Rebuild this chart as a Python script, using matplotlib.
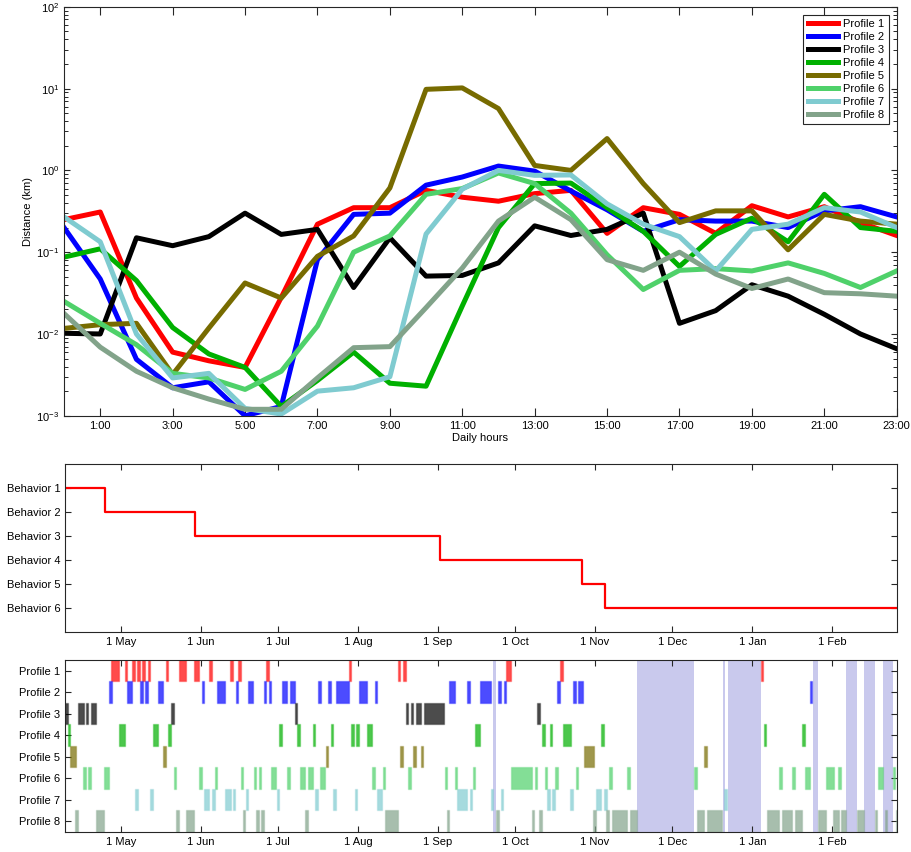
import numpy as np
import matplotlib
matplotlib.use('Agg')
import matplotlib.pyplot as plt
import matplotlib.dates as mdates
from matplotlib.colors import to_rgba
from matplotlib.ticker import LogLocator, NullFormatter
from datetime import datetime

plt.rcParams['font.family'] = ['Liberation Sans', 'DejaVu Sans']
plt.rcParams['font.size'] = 8
plt.rcParams['mathtext.default'] = 'regular'
plt.rcParams['axes.edgecolor'] = '#262626'
plt.rcParams['axes.linewidth'] = 0.8

# ---- daily distance profiles (km), one value per hour 0..23
hours = np.arange(24)
profile_1 = [0.25, 0.31, 0.0275, 0.006, 0.0047, 0.0039, 0.028, 0.22, 0.35, 0.35, 0.57, 0.47,
             0.42, 0.52, 0.57, 0.17, 0.35, 0.29, 0.17, 0.37, 0.27, 0.36, 0.23, 0.16]
profile_2 = [0.2, 0.047, 0.0049, 0.0022, 0.0026, 0.001, 0.0013, 0.081, 0.29, 0.3, 0.66, 0.83,
             1.13, 0.98, 0.56, 0.33, 0.18, 0.25, 0.24, 0.24, 0.2, 0.32, 0.36, 0.27]
profile_3 = [0.0102, 0.01, 0.15, 0.12, 0.155, 0.3, 0.165, 0.19, 0.037, 0.15, 0.051, 0.052,
             0.074, 0.21, 0.16, 0.19, 0.3, 0.0135, 0.0193, 0.04, 0.029, 0.0174, 0.01, 0.0066]
profile_4 = [0.087, 0.11, 0.045, 0.012, 0.0057, 0.0039, 0.0013, 0.0027, 0.006, 0.0025, 0.0023, 0.022,
             0.2, 0.69, 0.7, 0.35, 0.18, 0.067, 0.165, 0.26, 0.134, 0.51, 0.2, 0.18]
profile_5 = [0.0117, 0.013, 0.0135, 0.0032, 0.0118, 0.042, 0.0275, 0.089, 0.158, 0.61, 9.8, 10.2,
             5.7, 1.15, 1.0, 2.45, 0.69, 0.23, 0.32, 0.32, 0.107, 0.29, 0.24, 0.22]
profile_6 = [0.025, 0.0135, 0.0074, 0.0033, 0.0029, 0.0021, 0.0035, 0.0125, 0.1, 0.158, 0.51, 0.6,
             0.93, 0.69, 0.3, 0.093, 0.035, 0.06, 0.063, 0.059, 0.074, 0.055, 0.037, 0.059]
profile_7 = [0.27, 0.134, 0.01, 0.0029, 0.0033, 0.00123, 0.00105, 0.002, 0.0022, 0.003, 0.167, 0.59,
             1.0, 0.87, 0.88, 0.39, 0.22, 0.155, 0.059, 0.19, 0.22, 0.35, 0.31, 0.2]
profile_8 = [0.0178, 0.0069, 0.0035, 0.0022, 0.0016, 0.0012, 0.0012, 0.0029, 0.0068, 0.007, 0.021, 0.064,
             0.24, 0.47, 0.25, 0.081, 0.06, 0.1, 0.054, 0.036, 0.047, 0.032, 0.031, 0.029]
profiles = [profile_1, profile_2, profile_3, profile_4, profile_5, profile_6, profile_7, profile_8]
names = ['Profile %d' % (i + 1) for i in range(8)]
colors = ['#ff0000', '#0000ff', '#000000', '#00b000', '#776b00', '#4fd16a', '#7fcbd0', '#82a38a']

hour_ticks = [1, 3, 5, 7, 9, 11, 13, 15, 17, 19, 21, 23]
hour_labels = ['%d:00' % h for h in hour_ticks]

# ---- behaviour changes (date, behaviour index)
behavior_dates = ['2014-04-09', '2014-04-25', '2014-05-30', '2014-09-02', '2014-10-27', '2014-11-05', '2015-02-26']
behavior_level = [1, 2, 3, 4, 5, 6, 6]
behavior_names = ['Behavior %d' % i for i in range(1, 7)]

# ---- days on which each profile was observed: (day counted from 1 May 2014, length in days)
obs_1 = [(-3.6, 3.1), (1.6, 1), (4.5, 1), (6.5, 1), (8.4, 1), (10.5, 1), (17.5, 1), (22.5, 3), (28.6, 1.8),
         (34.4, 1), (42.5, 1), (45.6, 1), (56.5, 1), (88.4, 1), (107.5, 1), (109.5, 1), (149.5, 1.9),
         (170.4, 1), (248.3, 1)]
obs_2 = [(-4.5, 1), (2.6, 1.9), (7.5, 1), (9.6, 1), (14.5, 1.9), (31.5, 1), (37.5, 2.9), (44.6, 1), (49.5, 2),
         (55.4, 1), (57.4, 1), (62.5, 2), (65.5, 2), (76.5, 1), (80.5, 1), (83.6, 4.9), (92.5, 2.9), (98.5, 1),
         (127.5, 2), (134.4, 1), (139.5, 4), (146.4, 1), (148.5, 1), (169.4, 1), (175.5, 1), (177.4, 2),
         (267.3, 1)]
obs_3 = [(-21.6, 1), (-16.6, 2.3), (-13.5, 1), (-11.5, 2), (19.5, 1), (67.5, 1), (110.5, 1), (112.4, 1),
         (114.5, 2), (117.5, 8), (161.5, 1)]
obs_4 = [(-20.5, 1), (-0.5, 2), (12.5, 2), (18.5, 1), (61.5, 1), (68.5, 1), (74.4, 1), (81.5, 1), (89.4, 1),
         (91.4, 1), (95.5, 2), (137.5, 2), (163.4, 1), (166.4, 1), (171.5, 3), (186.4, 1), (249.4, 1), (264.4, 1)]
obs_5 = [(-19.5, 2), (16.5, 1), (79.5, 1), (108.5, 1), (113.5, 1), (116.4, 1), (179.5, 4), (226.4, 1)]
obs_6 = [(-14.5, 1), (-12.5, 1), (-6.6, 2), (20.5, 1), (30.5, 1), (36.5, 1), (46.5, 1), (51.6, 1), (53.5, 1),
         (58.4, 2), (64.5, 1), (69.5, 2), (72.5, 2), (77.4, 2), (97.6, 1), (101.6, 1), (111.5, 1), (125.6, 1),
         (129.6, 1), (136.5, 1), (151.4, 8), (160.5, 1), (164.5, 1), (168.5, 1), (176.5, 1), (189.4, 1),
         (196.5, 1), (222.4, 1), (255.4, 1), (260.5, 1), (265.4, 2), (273.5, 3), (278.3, 1), (293.6, 2),
         (299.5, 1)]
obs_7 = [(5.6, 1), (11.5, 1), (32.4, 2), (35.5, 1), (40.6, 2), (43.5, 1), (48.5, 1), (60.5, 1), (75.5, 1),
         (82.5, 1), (90.7, 1), (99.5, 2), (130.5, 4), (135.4, 1), (143.5, 1), (147.4, 1), (165.4, 1),
         (167.4, 1), (174.4, 1), (184.4, 2), (187.5, 1), (234.1, 1)]
obs_8 = [(-17.6, 1), (-9.4, 3), (21.6, 1), (25.5, 3), (47.4, 1), (52.5, 1), (54.4, 1), (71.5, 1), (102.5, 5),
         (126.5, 1), (145.6, 1), (159.4, 1), (162.4, 1), (183.3, 1), (188.4, 1), (190.4, 6), (197.4, 3),
         (223.4, 3), (227.4, 6), (250.5, 5), (256.5, 4), (261.4, 3), (270.4, 3), (276.4, 2), (279.4, 2),
         (285.4, 3), (292.4, 1), (296.3, 1), (300.6, 1)]
observations = [obs_1, obs_2, obs_3, obs_4, obs_5, obs_6, obs_7, obs_8]

# periods without data (shaded)
gaps = [(144.5, 1), (200.4, 22), (233.5, 1), (235.7, 12.7), (268.5, 2), (281.4, 4), (288.4, 4), (295.5, 4)]

t0 = mdates.date2num(datetime(2014, 5, 1))
xmin = mdates.date2num(datetime(2014, 4, 9, 10))
xmax = mdates.date2num(datetime(2015, 2, 26, 0))


def matlab_axes(ax):
    ax.tick_params(direction='in', top=True, right=True, length=4.5, width=0.8, colors='#262626',
                   labelcolor='black')
    ax.tick_params(which='minor', direction='in', top=True, right=True, length=3, width=0.7,
                   colors='#262626')


fig = plt.figure(figsize=(9.11, 8.52), dpi=100)

# ---- top: hourly distance
ax1 = fig.add_axes([0.0703, 0.512, 0.914, 0.480])
for vals, name, c in zip(profiles, names, colors):
    ax1.plot(hours, vals, color=c, lw=3.6, label=name)
ax1.set_yscale('log')
ax1.set_ylim(1e-3, 1e2)
ax1.set_xlim(0, 23)
ax1.set_xticks(hour_ticks)
ax1.set_xticklabels(hour_labels)
ax1.yaxis.set_major_locator(LogLocator(base=10, numticks=10))
ax1.yaxis.set_minor_locator(LogLocator(base=10, subs=np.arange(2, 10), numticks=100))
ax1.yaxis.set_minor_formatter(NullFormatter())
ax1.set_xlabel('Daily hours', labelpad=2)
ax1.set_ylabel('Distance (km)', labelpad=2)
matlab_axes(ax1)
ax1.tick_params(axis='x', length=6)
leg = ax1.legend(loc='upper right', fancybox=False, framealpha=1, edgecolor='#262626',
                 handlelength=2.7, labelspacing=0.27, borderpad=0.4, handletextpad=0.5,
                 borderaxespad=0.7, fontsize=8)
leg.get_frame().set_linewidth(0.8)

# ---- middle: behaviour sequence
ax2 = fig.add_axes([0.0714, 0.258, 0.913, 0.197])
bdates = [mdates.date2num(datetime.strptime(d, '%Y-%m-%d')) for d in behavior_dates]
ax2.step(bdates, behavior_level, where='post', color='red', lw=1.6)
ax2.set_ylim(7, 0)
ax2.set_yticks(range(1, 7))
ax2.set_yticklabels(behavior_names)
ax2.set_xlim(xmin, xmax)
ax2.xaxis.set_major_locator(mdates.MonthLocator(bymonthday=1))
ax2.xaxis.set_major_formatter(mdates.DateFormatter('%-d %b'))
matlab_axes(ax2)

# ---- bottom: observation days per profile
ax3 = fig.add_axes([0.0714, 0.0235, 0.913, 0.2019])
for s, w in gaps:
    ax3.axvspan(t0 + s, t0 + s + w, color='#c9c9ed', lw=0, zorder=0)
for i, (obs, c) in enumerate(zip(observations, colors)):
    spans = [(t0 + s, w) for s, w in obs]
    ax3.broken_barh(spans, (i + 0.5, 1.0), facecolors=to_rgba(c, 0.7),
                    edgecolors=to_rgba(c, 0.3), linewidth=1.0, zorder=2)
ax3.set_ylim(8.5, 0.5)
ax3.set_yticks(np.arange(1, 9))
ax3.set_yticklabels(names)
ax3.set_xlim(xmin, xmax)
ax3.xaxis.set_major_locator(mdates.MonthLocator(bymonthday=1))
ax3.xaxis.set_major_formatter(mdates.DateFormatter('%-d %b'))
matlab_axes(ax3)
for sp in ax3.spines.values():
    sp.set_zorder(5)

fig.savefig('out.png', dpi=100)
